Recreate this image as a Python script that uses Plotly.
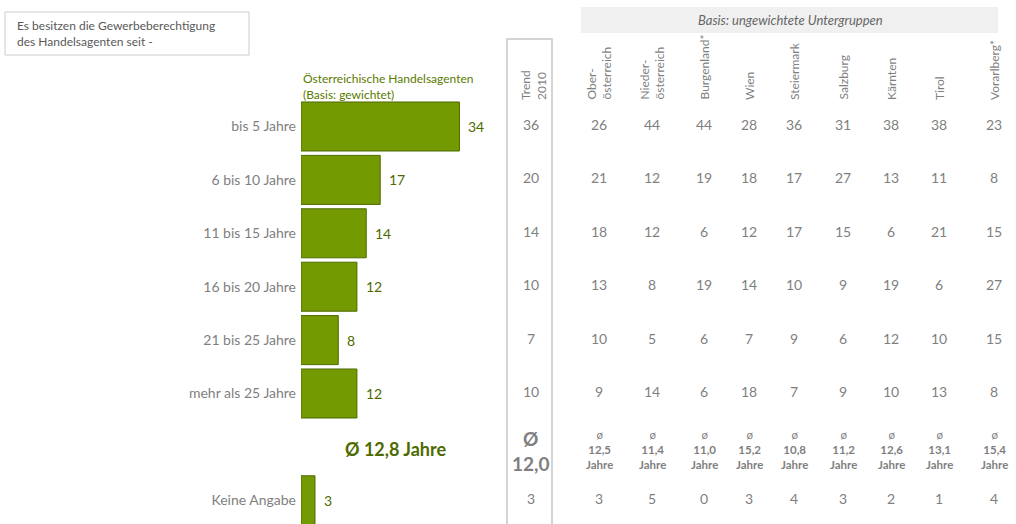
import plotly.graph_objects as go

# ---------------- data ----------------
categories = ["bis 5 Jahre", "6 bis 10 Jahre", "11 bis 15 Jahre", "16 bis 20 Jahre",
              "21 bis 25 Jahre", "mehr als 25 Jahre", "Keine Angabe"]
total = [34, 17, 14, 12, 8, 12, 3]
trend2010 = [36, 20, 14, 10, 7, 10, 3]
avg_total = 12.8
avg_trend = 12.0

regions = ["Ober-<br>österreich", "Nieder-<br>österreich", "Burgenland*", "Wien",
           "Steiermark", "Salzburg", "Kärnten", "Tirol", "Vorarlberg*"]
oberoesterreich = [26, 21, 18, 13, 10, 9, 3]
niederoesterreich = [44, 12, 12, 8, 5, 14, 5]
burgenland = [44, 19, 6, 19, 6, 6, 0]
wien = [28, 18, 12, 14, 7, 18, 3]
steiermark = [36, 17, 17, 10, 9, 7, 4]
salzburg = [31, 27, 15, 9, 6, 9, 3]
kaernten = [38, 13, 6, 19, 12, 10, 2]
tirol = [38, 11, 21, 6, 10, 13, 1]
vorarlberg = [23, 8, 15, 27, 15, 8, 4]
region_values = [oberoesterreich, niederoesterreich, burgenland, wien, steiermark,
                 salzburg, kaernten, tirol, vorarlberg]
region_avgs = [12.5, 11.4, 11.0, 15.2, 10.8, 11.2, 12.6, 13.1, 15.4]

# ---------------- layout / positions ----------------
W, H = 1016, 524
L, R, T, B = 301, 1016, 100, 524
ROW_POS = [0, 1, 2, 3, 4, 5, 7]     # row slots (slot 6 = average row)
AVG_ROW = 6
TREND_X = 531
COL_X = [599, 652, 704, 749, 794, 843, 891, 939, 994]

GRAY = "#7f7f7f"
GREEN = "#739a00"
GREEN_EDGE = "#4f6a00"
GREEN_TXT = "#4e6a00"
FONT = "Lato"


def pxx(px):
    return (px - L) / (R - L)


def pxy(py):
    return (B - py) / (B - T)


def fmt(v):
    return f"{v:.1f}".replace(".", ",")


fig = go.Figure()

fig.add_trace(go.Bar(
    x=total, y=ROW_POS, orientation="h", width=0.918,
    marker=dict(color=GREEN, line=dict(color=GREEN_EDGE, width=1)),
    hoverinfo="skip", showlegend=False,
))

# value labels for bars
annotations = []
for v, r in zip(total, ROW_POS):
    annotations.append(dict(x=v, y=r, xref="x", yref="y", text=str(v), showarrow=False,
                            xanchor="left", xshift=7,
                            font=dict(family=FONT, size=14, color=GREEN_TXT)))

# trend column
fig.add_trace(go.Scatter(
    x=[TREND_X] * len(trend2010), y=ROW_POS, xaxis="x2", yaxis="y", mode="text",
    text=[str(v) for v in trend2010], textfont=dict(family=FONT, size=14, color=GRAY),
    cliponaxis=False, hoverinfo="skip", showlegend=False))

# region columns
for cx, vals in zip(COL_X, region_values):
    fig.add_trace(go.Scatter(
        x=[cx] * len(vals), y=ROW_POS, xaxis="x2", yaxis="y", mode="text",
        text=[str(v) for v in vals], textfont=dict(family=FONT, size=14, color=GRAY),
        cliponaxis=False, hoverinfo="skip", showlegend=False))

# average row
for cx, a in zip(COL_X, region_avgs):
    annotations.append(dict(x=cx, y=AVG_ROW, xref="x2", yref="y", showarrow=False,
                            text=f"ø<br><b>{fmt(a)}</b><br><b>Jahre</b>", yshift=-3,
                            xanchor="center", yanchor="middle", align="center",
                            font=dict(family=FONT, size=11.5, color=GRAY)))
annotations.append(dict(x=TREND_X, y=AVG_ROW, xref="x2", yref="y", showarrow=False,
                        text=f"<b>Ø<br>{fmt(avg_trend)}</b>", yshift=-4,
                        xanchor="center", yanchor="middle", align="center",
                        font=dict(family=FONT, size=19, color=GRAY)))
annotations.append(dict(x=395, y=AVG_ROW, xref="x2", yref="y", showarrow=False,
                        text=f"<b>Ø {fmt(avg_total)} Jahre</b>", yshift=-2,
                        xanchor="center", yanchor="middle",
                        font=dict(family=FONT, size=18, color=GREEN_TXT)))

# headers
for cx, name in zip(COL_X, regions):
    annotations.append(dict(x=pxx(cx), y=pxy(102), xref="paper", yref="paper", text=name,
                            showarrow=False, textangle=-90, yanchor="bottom", xanchor="center",
                            align="left", font=dict(family=FONT, size=12, color=GRAY)))
annotations.append(dict(x=pxx(TREND_X + 2), y=pxy(102), xref="paper", yref="paper",
                        text="Trend<br>2010", showarrow=False, textangle=-90,
                        yanchor="bottom", xanchor="center", align="left",
                        font=dict(family=FONT, size=12, color=GRAY)))
annotations.append(dict(x=pxx(790), y=pxy(20), xref="paper", yref="paper",
                        text="<i>Basis: ungewichtete Untergruppen</i>", showarrow=False,
                        xanchor="center", yanchor="middle",
                        font=dict(family=FONT, size=13, color="#666666")))
annotations.append(dict(x=pxx(301), y=pxy(86), xref="paper", yref="paper",
                        text="Österreichische Handelsagenten<br>(Basis: gewichtet)",
                        showarrow=False, xanchor="left", yanchor="middle", align="left",
                        font=dict(family=FONT, size=12, color="#5a7a00")))
annotations.append(dict(x=pxx(15), y=pxy(34), xref="paper", yref="paper",
                        text="Es besitzen die Gewerbeberechtigung<br>des Handelsagenten seit -",
                        showarrow=False, xanchor="left", yanchor="middle", align="left",
                        font=dict(family=FONT, size=12, color="#595959")))

shapes = [
    dict(type="rect", xref="paper", yref="paper", x0=pxx(5), x1=pxx(249),
         y0=pxy(12), y1=pxy(55), line=dict(color="#cccccc", width=1), layer="below"),
    dict(type="rect", xref="paper", yref="paper", x0=pxx(581), x1=pxx(998),
         y0=pxy(7), y1=pxy(33), line=dict(width=0), fillcolor="#f0f0f0", layer="below"),
    dict(type="rect", xref="paper", yref="paper", x0=pxx(507), x1=pxx(552),
         y0=pxy(560), y1=pxy(39), line=dict(color="#d4d4d4", width=2), layer="below"),
]

fig.update_layout(
    width=W, height=H,
    margin=dict(l=L, r=W - R, t=T, b=H - B, pad=0),
    paper_bgcolor="white", plot_bgcolor="rgba(0,0,0,0)",
    font=dict(family=FONT, size=14, color=GRAY),
    xaxis=dict(range=[0, (R - L) / 4.66], visible=False, fixedrange=True),
    xaxis2=dict(range=[L, R], overlaying="x", visible=False, fixedrange=True),
    yaxis=dict(range=[(B - 126.5) / 53.4, (T - 126.5) / 53.4], tickvals=ROW_POS,
               ticktext=categories, showgrid=False, zeroline=False, showline=False,
               ticks="", ticklabelstandoff=4,
               tickfont=dict(family=FONT, size=14, color=GRAY), fixedrange=True),
    annotations=annotations, shapes=shapes, showlegend=False,
)

fig.write_html("out.html", config={"displayModeBar": False},
               post_script="document.body.style.margin='0';document.body.style.overflow='hidden';")
